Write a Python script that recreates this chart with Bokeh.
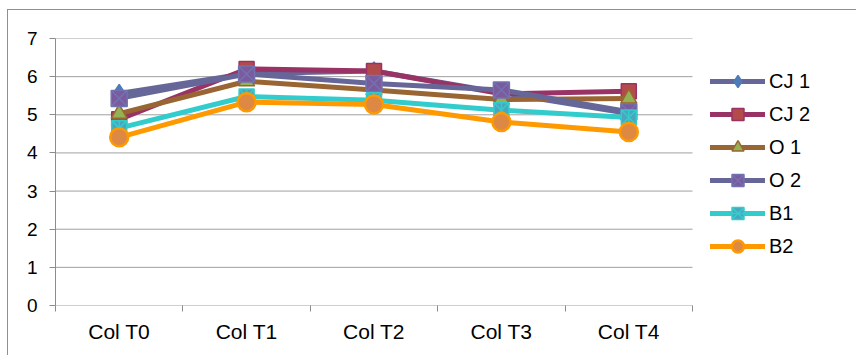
import math

from bokeh.plotting import figure
from bokeh.models import ColumnDataSource, FixedTicker, Legend, LegendItem, Range1d
from bokeh.embed import file_html
from bokeh.resources import INLINE

# --- data -------------------------------------------------------------------
categories = ["Col T0", "Col T1", "Col T2", "Col T3", "Col T4"]
series_names = ["CJ 1", "CJ 2", "O 1", "O 2", "B1", "B2"]
cj1 = [5.56, 6.08, 6.15, 5.58, 5.03]
cj2 = [4.88, 6.20, 6.15, 5.55, 5.62]
o1 = [5.03, 5.88, 5.65, 5.40, 5.43]
o2 = [5.43, 6.07, 5.82, 5.65, 5.08]
b1 = [4.65, 5.48, 5.38, 5.12, 4.93]
b2 = [4.41, 5.33, 5.27, 4.81, 4.55]
y_ticks = [0, 1, 2, 3, 4, 5, 6, 7]

# --- styles -----------------------------------------------------------------
FONT = "Liberation Sans"
styles = [
    # line colour, marker, marker fill, marker outline, marker size
    ("#666699", "diamond", "#4F7BB8", "#4F7BB8", 18),
    ("#993366", "square", "#B44B4B", "#993366", 15),
    ("#996633", "triangle", "#94B254", "#996633", 16),
    ("#666699", "square_x", "#7B5B9E", "#7272B0", 16),
    ("#33CCCC", "square_x", "#4BA5BE", "#33CCCC", 15),
    ("#FF9900", "circle", "#DD8843", "#FF9900", 18),
]
values = [cj1, cj2, o1, o2, b1, b2]

# layout (pixels): the plotting frame also hosts the legend to the right of
# the category slots, so the x range runs past the last slot
PLOT_W = 637      # width taken by the category slots
FRAME_W = 800     # slots + legend column
FRAME_H = 267
n = len(categories)
x_end = n * FRAME_W / PLOT_W

# category slots sit at 0.5, 1.5, ... so that tick marks fall between them
xs = [i + 0.5 for i in range(n)]

p = figure(width=849, height=346, output_backend="svg", toolbar_location=None,
           x_range=Range1d(0, x_end), y_range=Range1d(0, 7),
           min_border_left=47, min_border_right=2,
           min_border_top=28, min_border_bottom=51)
p.outline_line_color = None
p.background_fill_color = "white"
p.border_fill_color = "white"
# chart-area border (top and left edges visible in the window)
p.margin = (9, 0, 0, 7)
p.styles = {"border-left": "1px solid #8F8F8F", "border-top": "1px solid #8F8F8F"}

# x axis: labels at slot centres, ticks at slot boundaries
xa = p.xaxis[0]
xa.ticker = FixedTicker(ticks=xs, minor_ticks=list(range(n + 1)))
xa.major_label_overrides = {x: c for x, c in zip(xs, categories)}
xa.major_tick_out = 0
xa.major_tick_in = 0
xa.minor_tick_out = 6
xa.minor_tick_in = 0
xa.minor_tick_line_color = "#8C8C8C"
xa.axis_line_color = None
xa.major_label_text_font = FONT
xa.major_label_text_font_size = "21px"
xa.major_label_text_color = "black"
xa.major_label_standoff = 8

ya = p.yaxis[0]
ya.ticker = FixedTicker(ticks=y_ticks, minor_ticks=[])
ya.major_tick_out = 6
ya.major_tick_in = 0
ya.major_tick_line_color = "#8C8C8C"
ya.axis_line_color = "#8C8C8C"
ya.major_label_text_font = FONT
ya.major_label_text_font_size = "19px"
ya.major_label_text_color = "black"
ya.major_label_standoff = 12

# horizontal gridlines across the category slots only (y=0 doubles as x axis)
p.xgrid.visible = False
p.ygrid.visible = False
p.segment(x0=[0] * len(y_ticks), x1=[n] * len(y_ticks), y0=y_ticks, y1=y_ticks,
          line_color="#A0A0A0", line_width=1, level="underlay")

items = []
for name, vals, (lc, marker, mfill, mline, msize) in zip(series_names, values, styles):
    src = ColumnDataSource(dict(x=xs, y=vals))
    r_line = p.line("x", "y", source=src, line_color=lc, line_width=5,
                    line_join="round", line_cap="round")
    r_mark = p.scatter("x", "y", source=src, marker=marker, size=msize,
                       fill_color=mfill, line_color=mline,
                       line_width=2.5 if marker == "circle" else 1.5)
    rs = [r_line, r_mark]
    if name == "B1":
        # star marker: the X of square_x plus a vertical stroke
        r_bar = p.scatter("x", "y", source=src, marker="dash", size=msize,
                          angle=math.pi / 2, line_color=mline, line_width=1.5)
        rs.append(r_bar)
    items.append(LegendItem(label=name, renderers=rs))

legend = Legend(items=items, location=(655, 44), orientation="vertical",
                glyph_width=55, glyph_height=30, label_height=30,
                spacing=3, padding=0, margin=0, label_standoff=4,
                border_line_color=None, background_fill_alpha=0,
                label_text_font=FONT, label_text_font_size="20px",
                label_text_color="black")
p.add_layout(legend)

open("out.html", "w").write(file_html(p, INLINE))
